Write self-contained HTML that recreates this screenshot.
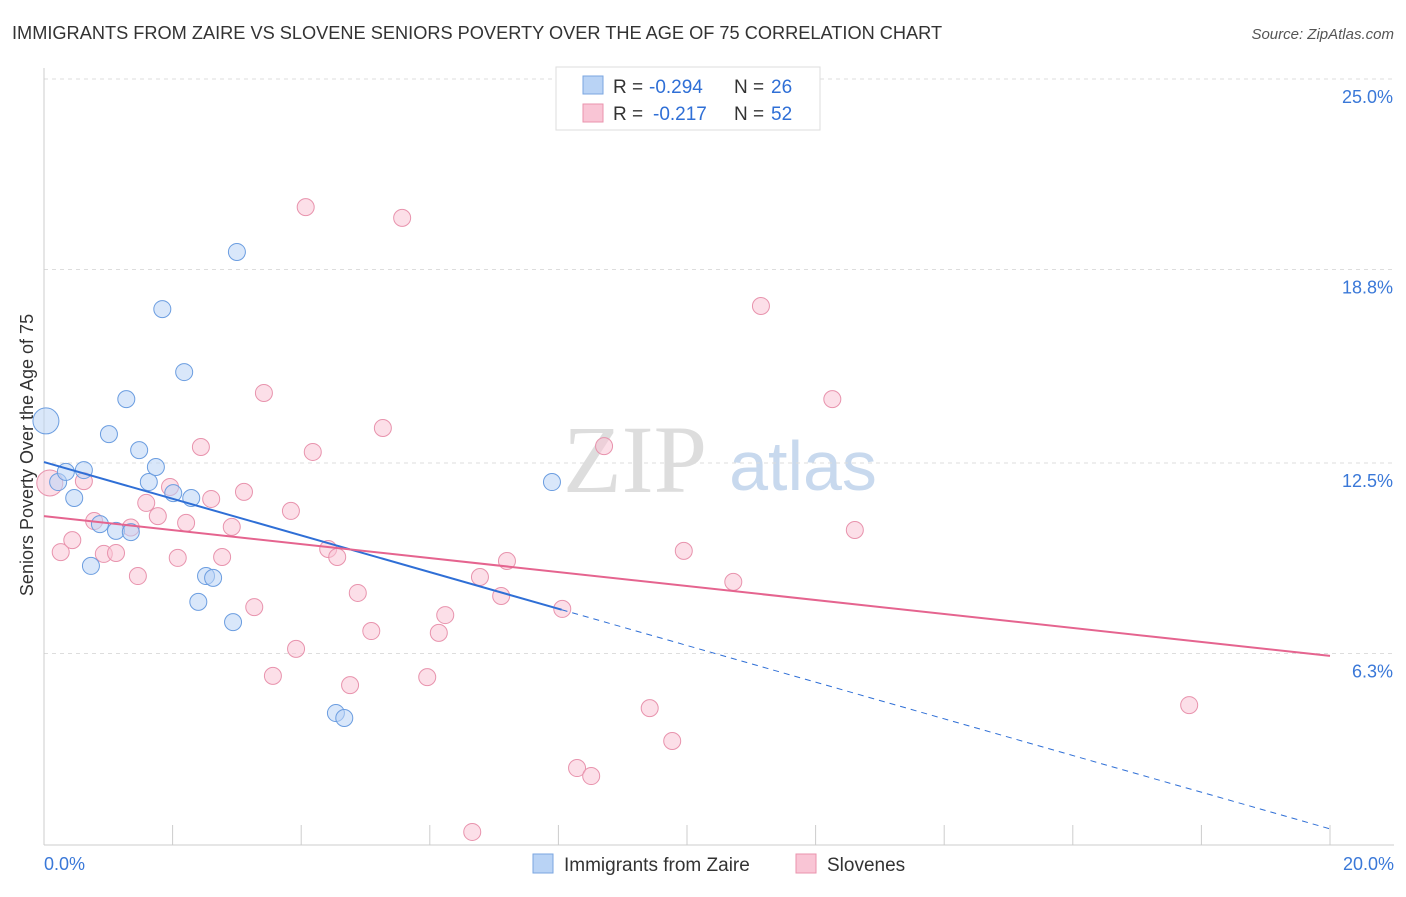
<!DOCTYPE html>
<html><head><meta charset="utf-8"><style>
body{margin:0;background:#fff;font-family:"Liberation Sans",sans-serif}
svg text{font-family:"Liberation Sans",sans-serif}
</style></head><body>
<svg width="1406" height="892" xmlns="http://www.w3.org/2000/svg">
<text x="12" y="39" font-size="18.2" fill="#333">IMMIGRANTS FROM ZAIRE VS SLOVENE SENIORS POVERTY OVER THE AGE OF 75 CORRELATION CHART</text>
<text x="1394" y="39" font-size="15" fill="#555" text-anchor="end" font-style="italic">Source: ZipAtlas.com</text>
<g>
<text x="635" y="492" font-size="96" fill="#ddd" text-anchor="middle" style="font-family:'Liberation Serif',serif">ZIP</text>
<text x="803" y="490" font-size="70" fill="#c8d9ee" text-anchor="middle">atlas</text>
</g>
<g id="grid"></g>
<g id="axes"></g>
<g id="marks"></g>
<text x="33" y="455" font-size="18" fill="#333" text-anchor="middle" transform="rotate(-90 33 455)">Seniors Poverty Over the Age of 75</text>
<g>
<rect x="556" y="67" width="264" height="63" fill="#fff" stroke="#ddd"/>
<rect x="583" y="76" width="20" height="18" fill="#b9d3f5" stroke="#7aa6e0"/>
<rect x="583" y="104" width="20" height="18" fill="#f9c5d5" stroke="#ea93ad"/>
<g font-size="19" fill="#333">
<text x="613" y="93">R =</text><text x="649" y="93" fill="#2f6fd6">-0.294</text><text x="734" y="93">N =</text><text x="771" y="93" fill="#2f6fd6">26</text></g>
<g font-size="19" fill="#333">
<text x="613" y="120">R =</text><text x="653" y="120" fill="#2f6fd6">-0.217</text><text x="734" y="120">N =</text><text x="771" y="120" fill="#2f6fd6">52</text></g>
</g>
<g>
<rect x="533" y="854" width="20" height="19" fill="#b9d3f5" stroke="#7aa6e0"/>
<text x="564" y="871" font-size="19" fill="#333">Immigrants from Zaire</text>
<rect x="796" y="854" width="20" height="19" fill="#f9c5d5" stroke="#ea93ad"/>
<text x="827" y="871" font-size="19" fill="#333">Slovenes</text>
</g>
</svg>
<script>
const yTicks=[6.3,12.5,18.8,25.0];
const yTickLabels=["6.3%","12.5%","18.8%","25.0%"];
const xTickLabels=["0.0%","20.0%"];
const zaireX=[0.03,0.22,0.34,0.47,0.62,0.73,0.87,1.01,1.12,1.28,1.35,1.48,1.63,1.74,1.84,2.01,2.18,2.29,2.40,2.52,2.63,2.94,3.00,4.54,4.67,7.90];
const zaireY=[13.87,11.88,12.21,11.36,12.27,9.15,10.51,13.44,10.29,14.58,10.25,12.92,11.88,12.37,17.51,11.52,15.46,11.36,7.98,8.82,8.76,7.32,19.37,4.36,4.20,11.88];
const sloX=[0.09,0.26,0.44,0.62,0.78,0.93,1.12,1.46,1.59,1.77,1.96,2.08,2.21,2.44,2.60,2.77,2.92,3.11,3.27,3.42,3.56,3.84,3.92,4.07,4.18,4.42,4.56,4.76,4.88,5.09,5.27,5.57,5.96,6.14,6.24,6.66,6.78,7.11,7.20,8.06,8.29,8.51,8.71,9.42,9.77,9.95,10.72,11.15,12.26,12.61,17.81,1.35];
const sloY=[11.85,9.60,9.99,11.91,10.61,9.54,9.57,8.82,11.20,10.77,11.72,9.41,10.55,13.02,11.33,9.44,10.42,11.56,7.81,14.78,5.57,10.94,6.45,20.83,12.86,9.70,9.44,5.27,8.27,7.03,13.64,20.48,5.53,6.97,7.55,0.49,8.79,8.17,9.31,7.75,2.57,2.31,13.05,4.52,3.45,9.64,8.63,17.61,14.58,10.32,4.62,10.40];
const zaireTrend=[12.53,0.59];
const sloTrend=[10.77,6.22];
const NS="http://www.w3.org/2000/svg";
const X=v=>44+v*64.3, Y=v=>847-v*30.72;
function mk(t,a,p){const e=document.createElementNS(NS,t);for(const k in a)e.setAttribute(k,a[k]);document.getElementById(p).appendChild(e);return e;}
yTicks.forEach((t,i)=>{
const g=mk('line',{x1:44,x2:1394,y1:Y(t),y2:Y(t),stroke:'#ddd','stroke-dasharray':'4,4'},'grid');


const l=mk('text',{x:1393,y:Y(t)+24,'font-size':18,fill:'#3a78d8','text-anchor':'end'},'axes');l.textContent=yTickLabels[i];


});
const topLine=mk('line',{x1:44,x2:1394,y1:79,y2:79,stroke:'#ddd','stroke-dasharray':'4,4'},'grid');


const ya=mk('line',{x1:44,x2:44,y1:68,y2:845,stroke:'#ccc'},'axes');


const xa=mk('line',{x1:44,x2:1394,y1:845,y2:845,stroke:'#ccc'},'axes');


for(let i=1;i<=10;i++){const t=mk('line',{x1:X(i*2),x2:X(i*2),y1:825,y2:845,stroke:'#ccc'},'axes');

}
[[0,'start',44],[20,'end',1394]].forEach((d,i)=>{const t=mk('text',{x:d[2],y:870,'font-size':18,fill:'#3a78d8','text-anchor':d[1]},'axes');t.textContent=xTickLabels[i];

});
function pts(xs,ys,fill,stroke,name){xs.forEach((x,i)=>{const r=(i==0)?13:8.5;const c=mk('circle',{cx:X(x),cy:Y(ys[i]),r:r,fill:fill,'fill-opacity':0.55,stroke:stroke,'stroke-width':1},'marks');

});}
pts(sloX,sloY,'#f9c5d5','#e893ad','slovenes-point');
pts(zaireX,zaireY,'#b9d3f5','#6b9de0','zaire-point');
const zt=v=>zaireTrend[0]+(zaireTrend[1]-zaireTrend[0])*v/20;
const st=v=>sloTrend[0]+(sloTrend[1]-sloTrend[0])*v/20;
const l1=mk('line',{x1:X(0),y1:Y(zt(0)),x2:X(8.05),y2:Y(zt(8.05)),stroke:'#2f6fd6','stroke-width':2},'marks');


const l2=mk('line',{x1:X(8.05),y1:Y(zt(8.05)),x2:X(20),y2:Y(zt(20)),stroke:'#2f6fd6','stroke-width':1,'stroke-dasharray':'6,5'},'marks');


const l3=mk('line',{x1:X(0),y1:Y(st(0)),x2:X(20),y2:Y(st(20)),stroke:'#e5648f','stroke-width':2},'marks');


</script>
</body></html>
